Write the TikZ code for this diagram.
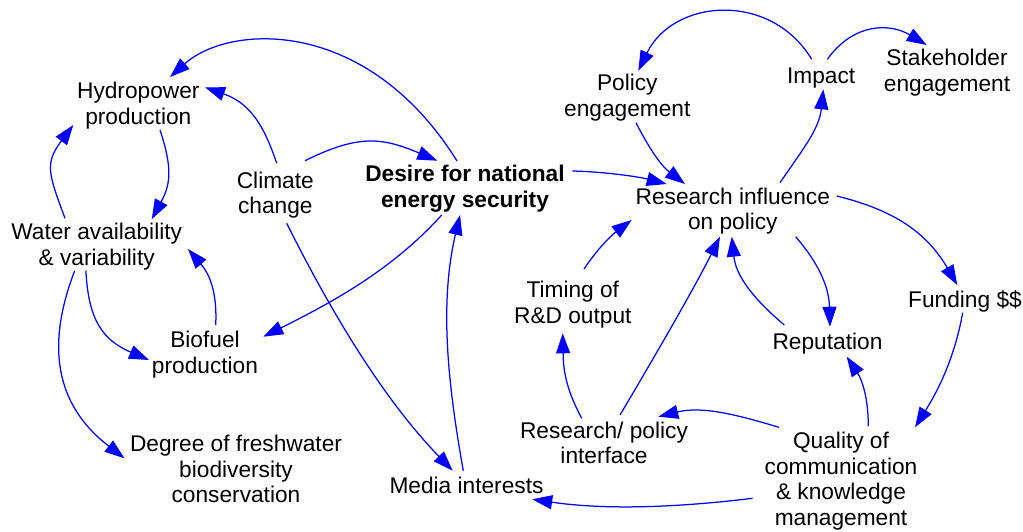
\documentclass[tikz,border=0pt]{standalone}
\usepackage{fontspec}
\setmainfont{Liberation Sans}
\usetikzlibrary{arrows.meta,calc}
\definecolor{linkblue}{RGB}{0,0,255}
\begin{document}
\begin{tikzpicture}[x=1pt,y=-1pt,
  lbl/.style={font=\fontsize{22.7}{25.6}\selectfont, align=center, inner sep=0pt, text=black},
  lblb/.style={lbl, font=\fontsize{22.7}{25.6}\selectfont\bfseries},
  arr/.style={draw=linkblue, line width=1.25pt, -{Triangle[length=20pt,width=14pt]}}]
\useasboundingbox (0,0) rectangle (1023,531);

% nodes
\node[lbl]  (hyd)        at (138.3,105.5)  {Hydropower\\production};
\node[lbl]  (water)      at (96.7,246.75)  {Water availability\\\& variability};
\node[lbl]  (climate)    at (275.3,195.3)  {Climate\\change};
\node[lblb] (desire)     at (465,188.75)   {Desire for national\\energy security};
\node[lbl]  (biofuel)    at (205,354.35)   {Biofuel\\production};
\node[lbl]  (degree)     at (236,469.15)   {Degree of freshwater\\biodiversity\\conservation};
\node[lbl]  (media)      at (466.5,485.85) {Media interests};
\node[lbl]  (poleng)     at (627.3,97.75)  {Policy\\engagement};
\node[lbl]  (impact)     at (821.2,77.55)  {Impact};
\node[lbl]  (stake)      at (947,72.75)    {Stakeholder\\engagement};
\node[lbl]  (research)   at (732.8,211.05) {Research influence\\on policy};
\node[lbl]  (timing)     at (572.8,304.75) {Timing of\\R\&D output};
\node[lbl]  (funding)    at (965,300.95)   {Funding \$\$};
\node[lbl]  (reputation) at (827.5,343.55) {Reputation};
\node[lbl]  (rpi)        at (604,442.95)   {Research/ policy\\interface};
\node[lbl]  (quality)    at (841,480.95)   {Quality of\\communication\\\& knowledge\\management};

% connectors
\draw[arr] ($(desire)+(-8,-27.75)$) .. controls (367,16.5) and (229.6,23.6) .. ($(hyd)+(31.7,-28.5)$);
\draw[arr] ($(climate)+(1.4,-32)$) .. controls (262.5,120.6) and (247.4,102.3) .. ($(hyd)+(66.7,-18.2)$);
\draw[arr] ($(hyd)+(21.7,24.5)$) .. controls (172.6,168) and (170.7,184.1) .. ($(water)+(55,-27.45)$);
\draw[arr] ($(water)+(-31.7,-28.45)$) .. controls (48.3,173.3) and (44.5,163.4) .. ($(hyd)+(-65,19.5)$);
\draw[arr] ($(biofuel)+(10.7,-29.35)$) .. controls (217.3,292) and (209.5,274.1) .. ($(water)+(91.3,2.25)$);
\draw[arr] ($(water)+(-10.8,23.95)$) .. controls (88.4,320.7) and (103.1,340.2) .. ($(biofuel)+(-56,5.65)$);
\draw[arr] ($(water)+(-22,23.95)$) .. controls (42.4,354.7) and (61.3,409.5) .. ($(degree)+(-111.5,-10.85)$);
\draw[arr] ($(climate)+(29.7,-34.6)$) .. controls (358.8,134.1) and (382,137.4) .. ($(desire)+(-27.7,-28.05)$);
\draw[arr] ($(climate)+(11.4,28)$) .. controls (331.4,312.7) and (383.2,398.8) .. ($(media)+(-13.8,-15.15)$);
\draw[arr] ($(desire)+(-23.3,26.25)$) .. controls (391.5,270.7) and (330.3,303.2) .. ($(biofuel)+(58.3,-17.65)$);
\draw[arr] ($(media)+(-3.2,-15.15)$) .. controls (447.5,382.2) and (439.4,302.6) .. ($(desire)+(-5,26.25)$);
\draw[arr] ($(desire)+(107.3,-17.75)$) .. controls (602.3,171.6) and (637.6,176.5) .. ($(research)+(-66.1,-27.05)$);
\draw[arr] ($(poleng)+(8.7,24.95)$) .. controls (649.7,149.4) and (661.2,165.8) .. ($(research)+(-47.8,-27.05)$);
\draw[arr] ($(impact)+(-9.5,-18.25)$) .. controls (770.3,-9.2) and (673.3,-1.2) .. ($(poleng)+(11,-27.05)$);
\draw[arr] ($(impact)+(6.1,-18.25)$) .. controls (853,23.5) and (889,22.4) .. ($(stake)+(-20.3,-27.75)$);
\draw[arr] ($(research)+(47.2,-28.35)$) .. controls (802.5,149.7) and (819.3,129.1) .. ($(impact)+(2.1,11.75)$);
\draw[arr] ($(research)+(103.9,-15.05)$) .. controls (895,210.2) and (927.1,233.2) .. ($(funding)+(-7.7,-15.95)$);
\draw[arr] ($(research)+(62.9,25.65)$) .. controls (820.5,265.5) and (829,288.7) .. ($(reputation)+(2.5,-16.85)$);
\draw[arr] ($(reputation)+(-43.2,-18.55)$) .. controls (753.8,299.1) and (736,276.3) .. ($(research)+(-1.1,25.65)$);
\draw[arr] ($(rpi)+(16,-27.95)$) .. controls (650.6,363.4) and (693.2,290.3) .. ($(research)+(-12.8,25.65)$);
\draw[arr] ($(timing)+(11.2,-35.75)$) .. controls (597.9,248.2) and (611.7,235) .. ($(research)+(-101.1,8.95)$);
\draw[arr] ($(rpi)+(-22.3,-24.65)$) .. controls (565.1,387.5) and (563.4,368.3) .. ($(timing)+(-10.1,28.55)$);
\draw[arr] ($(quality)+(27.3,-54.95)$) .. controls (868.3,398) and (862.1,379.9) .. ($(reputation)+(19.2,13.15)$);
\draw[arr] ($(quality)+(-62,-53.65)$) .. controls (735.9,414.4) and (702,405.9) .. ($(rpi)+(54.3,-26.25)$);
\draw[arr] ($(funding)+(-2.3,11.75)$) .. controls (954.7,357) and (938.9,389.1) .. ($(quality)+(74,-53.65)$);
\draw[arr] ($(quality)+(-88.4,17.35)$) .. controls (678.1,507.4) and (606.5,510.2) .. ($(media)+(65.7,13.45)$);
\end{tikzpicture}
\end{document}
